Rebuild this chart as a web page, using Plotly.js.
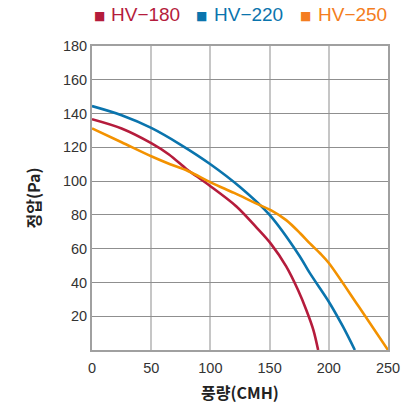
<!DOCTYPE html>
<html>
<head>
<meta charset="utf-8">
<script src="https://cdn.plot.ly/plotly-3.0.1.min.js"></script>
<style>html,body{margin:0;padding:0;background:#fff}#chart{width:401px;height:408px}</style>
</head>
<body>
<div id="chart"></div>
<script>
var seriesNames = ["HV\u2212180", "HV\u2212220", "HV\u2212250"];
var seriesColors = ["#b51c3c", "#0a74ad", "#f39200"];
var legendColors = ["#b51c3c", "#0a74ad", "#f47d20"];

var hv180_x = [0, 25, 50, 65, 80, 88, 100, 122, 139, 151, 164, 174, 181, 187, 191];
var hv180_y = [136.7, 131.2, 122.5, 115.8, 107, 103, 97, 85, 72.5, 63, 49.5, 35.5, 23.7, 11.8, 0];

var hv220_x = [0, 25, 50, 75, 100, 125, 150, 175, 184, 200, 212, 222];
var hv220_y = [144.4, 139, 131.5, 121.5, 110, 96.5, 80, 56, 45.5, 28.6, 13.8, 0];

var hv250_x = [0, 25, 51, 66, 81, 101, 120, 138, 151, 164, 176, 184, 193, 200, 225, 250];
var hv250_y = [131.2, 123, 114.4, 110, 106, 99, 93, 87, 82.8, 76.9, 69, 63.1, 57, 51.5, 26, 0];

var xTicks = [0, 50, 100, 150, 200, 250];
var yTicks = [20, 40, 60, 80, 100, 120, 140, 160, 180];

var xs = [hv180_x, hv220_x, hv250_x];
var ys = [hv180_y, hv220_y, hv250_y];

var traces = [];
for (var i = 0; i < 3; i++) {
  traces.push({
    x: xs[i], y: ys[i], type: "scatter", mode: "lines", name: seriesNames[i],
    line: {color: seriesColors[i], width: 2.6, shape: "spline", smoothing: 0.9},
    showlegend: false, hoverinfo: "skip"
  });
}

// legend entries as paper-positioned annotations (plot area spans 92..388 px horizontally)
var legendSquareX = [99, 201, 305.5];
var legendTextX = [109, 212, 316];
var annotations = [];
for (var k = 0; k < 3; k++) {
  annotations.push({
    xref: "paper", yref: "paper", x: (legendSquareX[k] - 92) / 296, y: 1 + (46 - 15.5) / 304,
    xanchor: "center", yanchor: "middle", showarrow: false,
    text: "\u25A0", font: {size: 12, color: legendColors[k], family: "DejaVu Sans, sans-serif"}
  });
  annotations.push({
    xref: "paper", yref: "paper", x: (legendTextX[k] - 92) / 296, y: 1 + (46 - 14.5) / 304,
    xanchor: "left", yanchor: "middle", showarrow: false,
    text: seriesNames[k], font: {size: 19, color: legendColors[k], family: "Liberation Sans, Arial, sans-serif"}
  });
}

var layout = {
  width: 401, height: 408,
  margin: {l: 92, r: 13, t: 46, b: 58, autoexpand: false},
  paper_bgcolor: "#fff", plot_bgcolor: "#fff",
  font: {family: "Liberation Sans, Arial, sans-serif", color: "#333", size: 14},
  showlegend: false,
  annotations: annotations,
  xaxis: {
    range: [0, 250], tickvals: xTicks, ticktext: xTicks.map(String),
    showgrid: true, gridcolor: "#c6c6c6", gridwidth: 2,
    showline: true, linecolor: "#a0a0a0", linewidth: 2, mirror: true,
    zeroline: false, ticks: "", ticklen: 0, ticklabelstandoff: 4,
    tickfont: {size: 14.5, color: "#333"},
    title: {text: "풍량(CMH)", font: {family: "Noto Sans CJK KR, sans-serif", size: 16, color: "#222", weight: 600}, standoff: 12}
  },
  yaxis: {
    range: [0, 180], tickvals: yTicks, ticktext: yTicks.map(String),
    showgrid: true, gridcolor: "#8f8f8f", gridwidth: 1,
    showline: true, linecolor: "#a0a0a0", linewidth: 2, mirror: true,
    zeroline: false, ticks: "", ticklen: 0,
    tickfont: {size: 14.5, color: "#333"},
    title: {text: "정압(Pa)", font: {family: "Noto Sans CJK KR, sans-serif", size: 16, color: "#222", weight: 600}, standoff: 18}
  }
};

Plotly.newPlot("chart", traces, layout, {displayModeBar: false, staticPlot: true});
</script>
</body>
</html>
